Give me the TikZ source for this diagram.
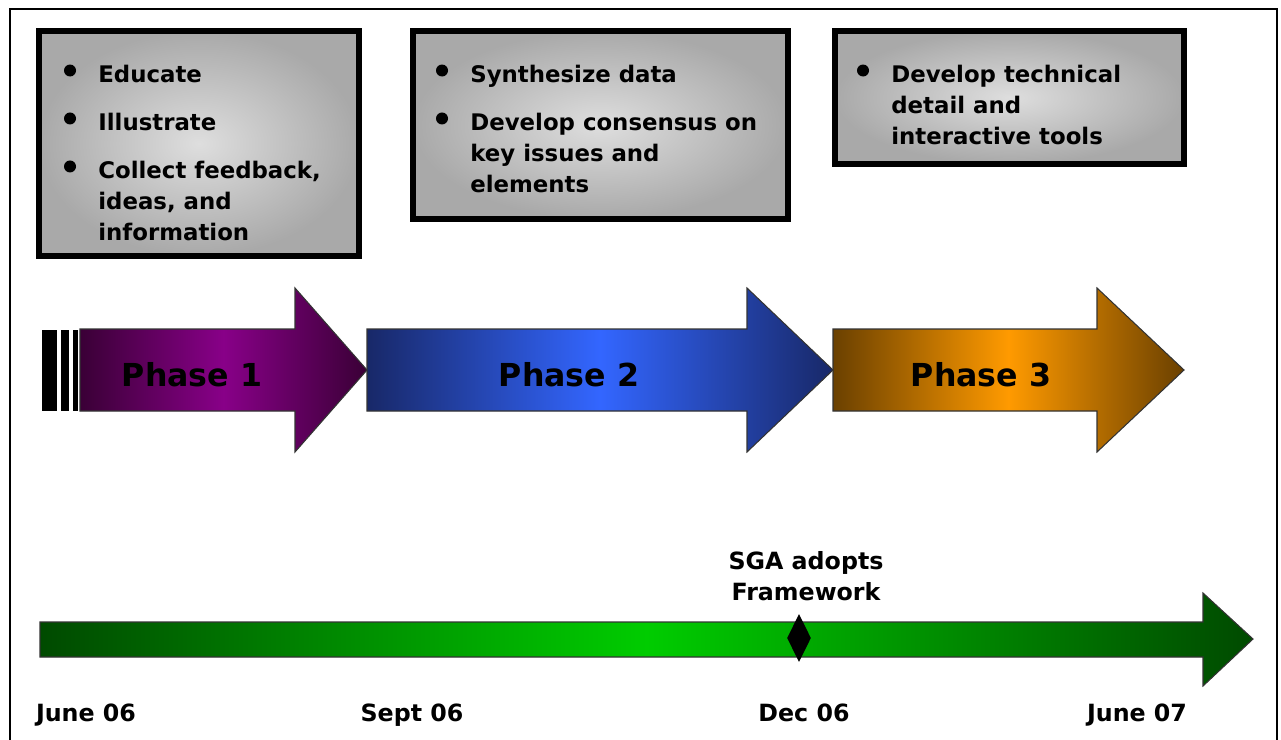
\documentclass[tikz,border=0pt]{standalone}
\usepackage{fontspec}
\setmainfont{DejaVu Sans}
\usetikzlibrary{positioning,shapes.geometric}

\definecolor{boxlight}{HTML}{DEDEDE}
\definecolor{boxgray}{HTML}{A9A9A9}
\definecolor{ponedark}{HTML}{3A0036}
\definecolor{ponebright}{HTML}{880088}
\definecolor{ptwodark}{HTML}{182868}
\definecolor{ptwobright}{HTML}{3366FF}
\definecolor{pthreedark}{HTML}{6A4000}
\definecolor{pthreebright}{HTML}{FF9A00}
\definecolor{linedark}{HTML}{004A00}
\definecolor{linebright}{HTML}{00CC00}

\begin{document}
\begin{tikzpicture}[x=0.02cm,y=-0.02cm,
  infobox/.style={anchor=north west,draw=black,line width=3.4pt,inner sep=0pt,inner color=boxlight,outer color=boxgray},
  dot/.style={circle,fill=black,inner sep=0pt,minimum size=0.24cm},
  itemtext/.style={anchor=base west,inner sep=0pt,font=\bfseries\fontsize{13}{16}\selectfont},
  phasetext/.style={anchor=base,inner sep=0pt,font=\bfseries\fontsize{18}{22}\selectfont},
  datetext/.style={anchor=base,inner sep=0pt,font=\bfseries\fontsize{13.5}{16}\selectfont},
  arrowline/.style={draw=black!80,line width=0.6pt}]

\useasboundingbox (0,0) rectangle (1281,740);
\draw[line width=1.2pt] (10,740) -- (10,9) -- (1277,9) -- (1277,740);

%%%%%%%%%%%%%%%%%%%%%%%%%%%%
\node [infobox,minimum width=6.4cm,minimum height=4.5cm] (box1) at (36,28) {};
\node [itemtext] (edu) at (98,83) {Educate};
\node [dot] (edu-b) at ([xshift=-0.56cm,yshift=0.25cm]edu.base west) {};
\node [itemtext] (ill) at ([yshift=-0.96cm]edu.base west) {Illustrate};
\node [dot] (ill-b) at ([xshift=-0.56cm,yshift=0.25cm]ill.base west) {};
\node [itemtext] (col) at ([yshift=-0.96cm]ill.base west) {Collect feedback,};
\node [dot] (col-b) at ([xshift=-0.56cm,yshift=0.25cm]col.base west) {};
\node [itemtext] (col-2) at ([yshift=-0.62cm]col.base west) {ideas, and};
\node [itemtext] (col-3) at ([yshift=-0.62cm]col-2.base west) {information};
%%%%%%%%%%%%%%%%%%%%%%%%%%%%
\node [infobox,minimum width=7.5cm,minimum height=3.76cm] (box2) at (410,28) {};
\node [itemtext] (syn) at (470,83) {Synthesize data};
\node [dot] (syn-b) at ([xshift=-0.56cm,yshift=0.25cm]syn.base west) {};
\node [itemtext] (con) at ([yshift=-0.96cm]syn.base west) {Develop consensus on};
\node [dot] (con-b) at ([xshift=-0.56cm,yshift=0.25cm]con.base west) {};
\node [itemtext] (con-2) at ([yshift=-0.62cm]con.base west) {key issues and};
\node [itemtext] (con-3) at ([yshift=-0.62cm]con-2.base west) {elements};
%%%%%%%%%%%%%%%%%%%%%%%%%%%%
\node [infobox,minimum width=6.98cm,minimum height=2.66cm] (box3) at (832,28) {};
\node [itemtext] (tec) at (891,83) {Develop technical};
\node [dot] (tec-b) at ([xshift=-0.56cm,yshift=0.25cm]tec.base west) {};
\node [itemtext] (tec-2) at ([yshift=-0.62cm]tec.base west) {detail and};
\node [itemtext] (tec-3) at ([yshift=-0.62cm]tec-2.base west) {interactive tools};
%%%%%%%%%%%%%%%%%%%%%%%%%%%%
\fill (42,330) rectangle (57,411);
\fill (61,330) rectangle (69,411);
\fill (73,330) rectangle (78,411);
\shade [arrowline,left color=ponedark,right color=ponedark,middle color=ponebright] (80,329) -- (295,329) -- (295,288) -- (367,370) -- (295,452) -- (295,411) -- (80,411) -- cycle;
\shade [arrowline,left color=ptwodark,right color=ptwodark,middle color=ptwobright] (367,329) -- (747,329) -- (747,288) -- (833,370) -- (747,452) -- (747,411) -- (367,411) -- cycle;
\shade [arrowline,left color=pthreedark,right color=pthreedark,middle color=pthreebright] (833,329) -- (1097,329) -- (1097,288) -- (1184,370) -- (1097,452) -- (1097,411) -- (833,411) -- cycle;
\node [phasetext] (phase1) at (192,386) {Phase 1};
\node [phasetext] (phase2) at (569,386) {Phase 2};
\node [phasetext] (phase3) at (981,386) {Phase 3};
%%%%%%%%%%%%%%%%%%%%%%%%%%%%
\shade [arrowline,left color=linedark,right color=linedark,middle color=linebright] (40,622) -- (1203,622) -- (1203,593) -- (1253,639) -- (1203,686) -- (1203,657) -- (40,657) -- cycle;
\node [diamond,fill=black,inner sep=0pt,minimum width=0.48cm,minimum height=0.96cm] (sga) at (799,638) {};
\node [datetext] (sga-2) at (806,600) {Framework};
\node [datetext] (sga-1) at ([yshift=0.62cm]sga-2.base) {SGA adopts};
%%%%%%%%%%%%%%%%%%%%%%%%%%%%
\node [datetext] (jun06) at (86,721) {June 06};
\node [datetext] (sep06) at (412,721) {Sept 06};
\node [datetext] (dec06) at (804,721) {Dec 06};
\node [datetext] (jun07) at (1137,721) {June 07};

\end{tikzpicture}
\end{document}
